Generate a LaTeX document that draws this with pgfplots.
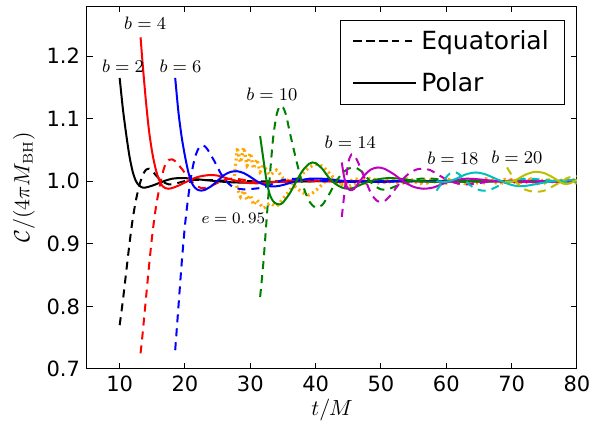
\documentclass[border=0pt]{standalone}
\usepackage{pgfplots}
\pgfplotsset{compat=1.18}
\usepackage[no-math]{fontspec}
\setmainfont{DejaVu Sans}
\definecolor{mgreen}{rgb}{0,0.5,0}
\definecolor{mmag}{rgb}{0.75,0,0.75}
\definecolor{mcyan}{rgb}{0,0.75,0.75}
\definecolor{molive}{rgb}{0.75,0.75,0}
\definecolor{morange}{rgb}{1,0.65,0}
\begin{document}
\begin{tikzpicture}
\begin{axis}[
  scale only axis, width=245pt, height=181.5pt,
  at={(0,0)}, anchor=south west,
  xmin=5, xmax=80, ymin=0.7, ymax=1.28,
  xtick={10,20,...,80}, ytick={0.7,0.8,...,1.2},
  yticklabel style={/pgf/number format/.cd, fixed, fixed zerofill, precision=1},
  /pgf/number format/assume math mode=true,
  tick label style={font=\fontsize{10.5}{12}\selectfont},
  tick align=inside, major tick length=3pt, tick style={black, line width=0.5pt},
  axis line style={line width=0.5pt},
  xtick pos=both, ytick pos=both,
  xlabel={$t/M$}, ylabel={$\mathcal{C}/(4\pi M_{\mathrm{BH}})$},
  label style={font=\fontsize{10.5}{12}\selectfont},
  x label style={at={(axis description cs:0.5,-0.113)}, anchor=center},
  y label style={at={(axis description cs:-0.1286,0.5)}, anchor=center},
  legend style={at={(rel axis cs:0.976,0.962)}, anchor=north east, draw=black, line width=0.5pt,
    font=\fontsize{12.5}{14}\selectfont, inner xsep=6pt, inner ysep=3pt, row sep=6pt},
  legend cell align=left,
  legend image code/.code={\draw[#1, line width=1pt] (1pt,0pt) -- (21pt,0pt); \path (0pt,0pt) -- (31.5pt,0pt);},
  every axis plot/.append style={line width=1pt, smooth, tension=0.45},
  mydash/.style={dash pattern=on 4pt off 3pt},
]
\addlegendimage{black, dash pattern=on 3.5pt off 3pt}
\addlegendentry{Equatorial}
\addlegendimage{black}
\addlegendentry{Polar}

% orange e=0.95
\addplot[forget plot, morange, line width=1.6pt, dash pattern=on 1pt off 1.6pt, tension=0.3] coordinates {
(27.5,1.0)(28,1.05)(28.5,1.03)(29,1.054)(29.5,1.025)(30,1.045)(30.5,1.02)(31,1.035)(31.5,1.015)(32,1.025)(33,1.01)(34,1.018)(35,1.005)(36,1.0)(37,0.99)(38,0.982)(39,0.978)(40,0.985)(41,0.995)(42,1.005)(43,1.0)(44,0.995)(45,0.998)(46,1.004)(47,1.0)(48,0.996)(49,1.003)(50,1.0)(51,0.997)(52,1.004)(53,0.999)(54,0.996)(55,1.003)(56,1.0)(57,0.997)(58,1.004)(59,1.0)(60,0.997)(61,1.003)(62,1.0)(63,0.996)(64,1.003)(65,1.0)(66,0.997)(67,1.004)(68,1.0)(69,0.996)(70,1.003)(71,1.0)(72,0.997)(73,1.004)(74,1.0)(75,0.997)(76,1.003)(77,1.0)(78,0.997)(79,1.004)(80,1.0)
};
\addplot[forget plot, morange, line width=1.6pt, dash pattern=on 1pt off 1.6pt, tension=0.3] coordinates {
(27.5,1.0)(28,0.99)(28.5,0.975)(29,0.985)(29.5,0.97)(30,0.978)(30.5,0.962)(31,0.97)(32,0.957)(33,0.965)(34,0.96)(35,0.972)(36,0.985)(37,1.0)(38,1.012)(39,1.022)(40,1.027)(41,1.024)(42,1.014)(43,1.003)(44,0.996)(45,0.992)(46,0.996)(47,1.002)(48,1.005)(49,1.0)(50,0.996)(51,1.003)(52,1.0)(53,0.997)(54,1.004)(55,1.0)(56,0.996)(57,1.003)(58,1.0)(59,0.997)(60,1.004)(61,1.0)(62,0.996)(63,1.003)(64,1.0)(65,0.997)(66,1.004)(67,1.0)(68,0.996)(69,1.003)(70,1.0)(71,0.997)(72,1.004)(73,1.0)(74,0.996)(75,1.003)(76,1.0)(77,0.997)(78,1.004)(79,1.0)(80,0.997)
};

% b=2
\addplot[forget plot, black] coordinates {
(10,1.165)(10.5,1.115)(11,1.075)(11.5,1.04)(12,1.015)(12.5,1.0)(13,0.993)(13.5,0.99)(14,0.99)(15,0.993)(16,0.997)(17,1.001)(18,1.004)(19,1.005)(20,1.005)(22,1.003)(24,1.001)(26,0.999)(28,0.998)(30,0.998)(34,0.999)(40,1.0)(50,1.0)(60,1.0)(70,1.0)(80,1.0)
};
\addplot[forget plot, black, mydash] coordinates {
(10,0.77)(10.5,0.81)(11,0.855)(11.5,0.9)(12,0.94)(12.5,0.97)(13,0.993)(13.5,1.009)(14,1.018)(14.5,1.02)(15,1.017)(15.5,1.01)(16.5,1.0)(17.5,0.995)(18.5,0.996)(19.5,0.999)(21,1.002)(23,1.002)(26,1.001)(30,1.0)(40,1.0)(80,1.0)
};
% b=4
\addplot[forget plot, red] coordinates {
(13.2,1.23)(13.5,1.19)(14,1.13)(14.5,1.08)(15,1.045)(15.5,1.02)(16,1.003)(16.5,0.993)(17,0.989)(17.5,0.988)(18,0.989)(19,0.993)(20,0.998)(21,1.003)(22,1.007)(23,1.009)(24,1.01)(25,1.009)(26,1.006)(27,1.003)(28,1.0)(30,0.997)(32,0.997)(34,0.999)(36,1.001)(38,1.002)(40,1.001)(44,0.999)(50,1.0)(80,1.0)
};
\addplot[forget plot, red, mydash] coordinates {
(13.2,0.725)(13.5,0.755)(14,0.81)(14.5,0.865)(15,0.915)(15.5,0.955)(16,0.985)(16.5,1.01)(17,1.027)(17.5,1.034)(18,1.035)(18.5,1.032)(19.5,1.02)(20.5,1.006)(21.5,0.995)(22.5,0.989)(23.5,0.99)(24.5,0.995)(25.5,1.0)(27,1.004)(28.5,1.003)(30,1.0)(32,0.998)(35,0.999)(40,1.0)(80,1.0)
};
% b=6
\addplot[forget plot, blue] coordinates {
(18.5,1.165)(19,1.11)(19.5,1.07)(20,1.04)(20.5,1.015)(21,0.998)(21.5,0.99)(22,0.986)(22.5,0.985)(23,0.986)(24,0.992)(25,1.001)(26,1.01)(27,1.015)(28,1.016)(29,1.013)(30,1.007)(31,1.0)(32,0.995)(33,0.992)(34,0.992)(35,0.994)(37,1.0)(39,1.004)(41,1.004)(43,1.002)(45,1.0)(50,0.999)(55,1.0)(80,1.0)
};
\addplot[forget plot, blue, mydash] coordinates {
(18.5,0.73)(19,0.8)(19.5,0.87)(20,0.93)(20.5,0.975)(21,1.012)(21.5,1.037)(22,1.051)(22.5,1.057)(23,1.056)(23.5,1.05)(24.5,1.032)(25.5,1.012)(26.5,0.998)(27.5,0.99)(29,0.987)(30.5,0.988)(32,0.99)(33.5,0.996)(35,1.002)(37,1.004)(39,1.003)(42,1.0)(46,0.999)(50,1.0)(80,1.0)
};
% b=10
\addplot[forget plot, mgreen] coordinates {
(31.5,1.072)(32,1.035)(32.5,1.0)(33,0.978)(33.5,0.968)(34,0.964)(34.5,0.963)(35,0.966)(36,0.98)(37,0.999)(38,1.017)(39,1.028)(39.5,1.03)(40,1.029)(41,1.02)(42,1.006)(43,0.996)(44,0.99)(45,0.988)(46,0.99)(47,0.995)(49,1.002)(51,1.005)(53,1.004)(55,1.001)(58,0.999)(62,1.0)(80,1.0)
};
\addplot[forget plot, mgreen, mydash] coordinates {
(31.5,0.815)(32,0.87)(32.5,0.94)(33,1.01)(33.5,1.07)(34,1.105)(34.5,1.12)(35,1.118)(35.5,1.105)(36,1.08)(37,1.035)(38,0.995)(39,0.968)(40,0.958)(41,0.962)(42,0.978)(43,0.997)(44,1.012)(45,1.02)(46,1.022)(47,1.016)(48,1.004)(49,0.993)(50,0.987)(51,0.987)(52,0.991)(54,0.999)(56,1.004)(58,1.004)(60,1.001)(63,0.999)(66,1.0)(80,1.0)
};
% b=14
\addplot[forget plot, mmag] coordinates {
(44,1.03)(44.3,1.01)(44.7,0.993)(45.2,0.986)(45.8,0.987)(46.5,0.996)(47.5,1.01)(48.5,1.019)(49.5,1.022)(50.5,1.02)(52,1.011)(53.5,0.999)(55,0.991)(56.5,0.988)(58,0.99)(59.5,0.996)(61,1.001)(63,1.004)(65,1.003)(68,1.0)(72,0.999)(80,1.0)
};
\addplot[forget plot, mmag, mydash] coordinates {
(44,0.943)(44.5,0.99)(45,1.03)(45.5,1.043)(46,1.04)(46.5,1.03)(47.5,1.005)(48.5,0.98)(49.5,0.968)(50.5,0.968)(51.5,0.978)(52.5,0.992)(53.5,1.005)(54.5,1.014)(55.5,1.019)(56.5,1.02)(57.5,1.018)(58.5,1.012)(60,1.003)(61.5,0.997)(63,0.995)(65,0.997)(67,1.0)(70,1.001)(75,1.0)(80,1.0)
};
% b=18
\addplot[forget plot, mcyan] coordinates {
(58.5,1.0)(60,0.999)(61.5,1.004)(63,1.011)(64.5,1.014)(66,1.011)(68,1.002)(70,0.994)(71.5,0.992)(73,0.994)(75,0.998)(77,1.001)(80,1.002)
};
\addplot[forget plot, mcyan, mydash] coordinates {
(58.5,0.985)(59.5,1.0)(60.5,1.012)(61.5,1.014)(62.5,1.006)(63.5,0.995)(64.5,0.988)(65.5,0.985)(66.5,0.986)(67.5,0.99)(69,0.998)(71,1.003)(73,1.004)(75,1.002)(78,0.999)(80,0.999)
};
% b=20
\addplot[forget plot, molive] coordinates {
(69,1.0)(70,0.999)(71,1.004)(72,1.01)(73.5,1.015)(75,1.013)(76.5,1.005)(77.7,0.997)(78.7,0.996)(80,1.002)
};
\addplot[forget plot, molive, mydash] coordinates {
(69.3,1.022)(70,1.01)(71,0.995)(72,0.987)(73.5,0.983)(75,0.985)(76.5,0.993)(78,1.002)(79,1.007)(80,1.008)
};

\begin{scope}[every node/.style={font=\fontsize{9}{11}\selectfont}]
\node at (axis cs:10.5,1.184) {$b=2$};
\node at (axis cs:13.9,1.252) {$b=4$};
\node at (axis cs:19.3,1.184) {$b=6$};
\node at (axis cs:33.3,1.139) {$b=10$};
\node at (axis cs:45.3,1.062) {$b=14$};
\node at (axis cs:61,1.036) {$b=18$};
\node at (axis cs:70.8,1.039) {$b=20$};
\node[font=\fontsize{8.5}{10}\selectfont] at (axis cs:27.4,0.940) {$e=0.\,95$};
\end{scope}
\end{axis}
\pgfresetboundingbox
\path[use as bounding box] (-43.5pt,-30pt) rectangle (251.5pt,184.5pt);
\end{tikzpicture}
\end{document}
